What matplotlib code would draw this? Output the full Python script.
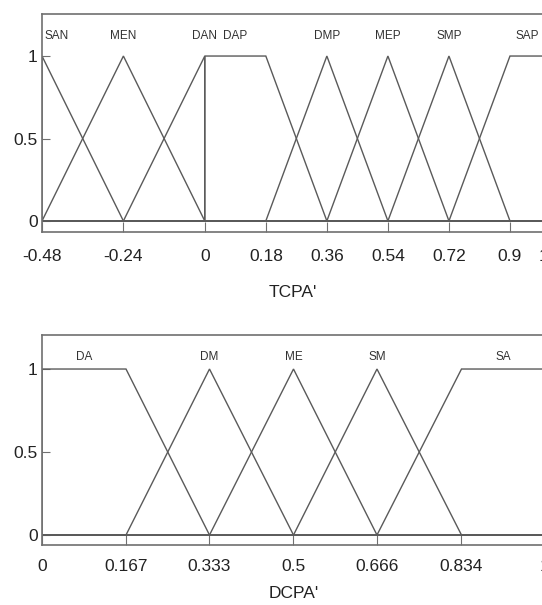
import numpy as np
import matplotlib.pyplot as plt

plt.rcParams['font.family'] = ['Liberation Sans', 'DejaVu Sans']

# TCPA' membership functions, trapezoids (a, b, c, d)
tcpa_names = ['SAN', 'MEN', 'DAN', 'DAP', 'DMP', 'MEP', 'SMP', 'SAP']
tcpa_a = [-0.48, -0.48, -0.24, 0.0, 0.18, 0.36, 0.54, 0.72]
tcpa_b = [-0.48, -0.24, 0.0, 0.0, 0.36, 0.54, 0.72, 0.9]
tcpa_c = [-0.48, -0.24, 0.0, 0.18, 0.36, 0.54, 0.72, 1.0]
tcpa_d = [-0.24, 0.0, 0.0, 0.36, 0.54, 0.72, 0.9, 1.0]
tcpa_ticks = [-0.48, -0.24, 0, 0.18, 0.36, 0.54, 0.72, 0.9, 1]
tcpa_ticklabels = ['-0.48', '-0.24', '0', '0.18', '0.36', '0.54', '0.72', '0.9', '1']

# DCPA' membership functions
dcpa_names = ['DA', 'DM', 'ME', 'SM', 'SA']
dcpa_a = [0.0, 0.167, 0.333, 0.5, 0.666]
dcpa_b = [0.0, 0.333, 0.5, 0.666, 0.834]
dcpa_c = [0.167, 0.333, 0.5, 0.666, 1.0]
dcpa_d = [0.333, 0.5, 0.666, 0.834, 1.0]
dcpa_ticks = [0, 0.167, 0.333, 0.5, 0.666, 0.834, 1]
dcpa_ticklabels = ['0', '0.167', '0.333', '0.5', '0.666', '0.834', '1']

LINE = '#5a5a5a'
SPINE = '#707070'


def draw_mfs(ax, names, a, b, c, d, lo, hi, label_y, first_left=False):
    for i, (n, pa, pb, pc, pd) in enumerate(zip(names, a, b, c, d)):
        xs = [lo, pa, pb, pc, pd, hi]
        ys = [0, 0, 1, 1, 0, 0]
        ax.plot(xs, ys, color=LINE, lw=1.0, solid_joinstyle='miter')
        xc = (pb + pc) / 2
        ha = 'center'
        if first_left and i == 0:
            xc = pb + 0.005 * (hi - lo)
            ha = 'left'
        ax.text(xc, label_y, n, ha=ha, va='center', fontsize=8.5, color='#333333')


def style_axes(ax, ticks, ticklabels, lo, hi, ylo, yhi, xlabel, xpad, labelpad):
    ax.set_xlim(lo, hi)
    ax.set_ylim(ylo, yhi)
    ax.set_xticks(ticks)
    ax.set_xticklabels(ticklabels)
    ax.set_yticks([0, 0.5, 1])
    ax.set_yticklabels(['0', '0.5', '1'])
    ax.tick_params(axis='x', direction='in', length=7, width=0.8, color=SPINE,
                   pad=xpad, labelsize=12.5, labelcolor='#222222')
    ax.tick_params(axis='y', direction='in', length=6, width=0.8, color=SPINE,
                   pad=3, labelsize=12.5, labelcolor='#222222')
    for s in ax.spines.values():
        s.set_color(SPINE)
        s.set_linewidth(1.2)
    ax.set_xlabel(xlabel, fontsize=12.5, color='#222222', labelpad=labelpad)


fig = plt.figure(figsize=(5.42, 6.05), dpi=100)

ax1 = fig.add_axes([0.0775, 0.6165, 0.926, 0.3604])
draw_mfs(ax1, tcpa_names, tcpa_a, tcpa_b, tcpa_c, tcpa_d, -0.48, 1.0, 1.12, first_left=True)
style_axes(ax1, tcpa_ticks, tcpa_ticklabels, -0.48, 1.0, -0.067, 1.255, "TCPA'",
           xpad=12, labelpad=15)

ax2 = fig.add_axes([0.0775, 0.0992, 0.928, 0.3471])
draw_mfs(ax2, dcpa_names, dcpa_a, dcpa_b, dcpa_c, dcpa_d, 0.0, 1.0, 1.07)
style_axes(ax2, dcpa_ticks, dcpa_ticklabels, 0.0, 1.0, -0.06, 1.205, "DCPA'",
           xpad=10, labelpad=9)

fig.savefig('out.png', dpi=100)
